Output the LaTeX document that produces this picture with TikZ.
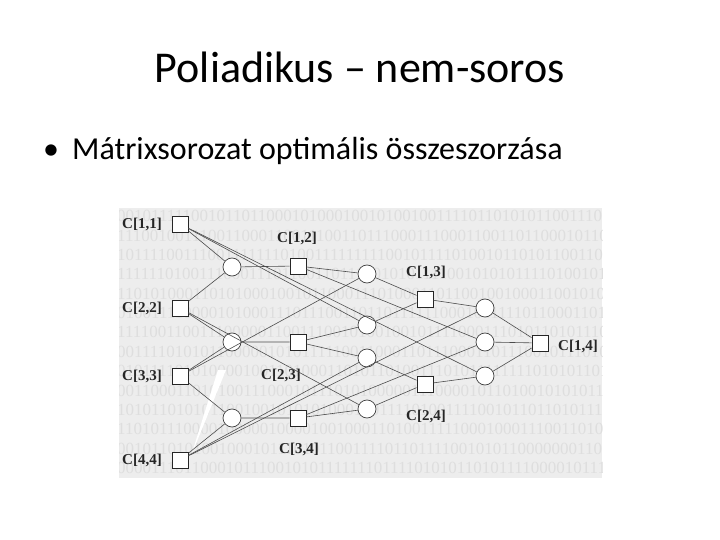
\documentclass[tikz,border=0pt]{standalone}
\usepackage{fontspec}
\setmainfont{Carlito}
\newfontfamily\scanfont{Liberation Serif}

\begin{document}
\begin{tikzpicture}[x=1pt,y=-1pt,
  sq/.style={draw=black!85,fill=white,line width=0.9pt,minimum size=16pt,inner sep=0pt},
  op/.style={circle,draw=black!75,fill=white,line width=0.7pt,minimum size=18pt,inner sep=0pt},
  lbl/.style={font=\scanfont\bfseries\fontsize{15}{15}\selectfont,text=black!85,inner sep=0pt},
  bits/.style={anchor=west,font=\scanfont\fontsize{17}{17}\selectfont,text=black!13,inner sep=0pt},
  wire/.style={draw=black!70,line width=0.6pt}]
\useasboundingbox (0,0) rectangle (720,540);
\fill[white] (0,0) rectangle (720,540);

\node[anchor=base,font=\fontsize{44}{44}\selectfont] (title) at (360,83) {Poliadikus – nem-soros};
\node[anchor=base,inner sep=0pt,font=\fontsize{32}{32}\selectfont] (dot) at (51,160) {•};
\node[anchor=base west,inner sep=0pt,font=\fontsize{32}{32}\selectfont] (item) at (72,160) {Mátrixsorozat optimális összeszorzása};

\fill[black!7] (119,208) rectangle (602,478);
\begin{scope}
\clip (119,208) rectangle (602,478);
\node[bits] (r1) at (117,216) {001011111001011011000101000100101001001111011010101100111010};
\node[bits] (r2) at (117,236) {111001001110011000110011100110111000111000110011011000101101};
\node[bits] (r3) at (117,255) {101111001110011111110100111111111001011110100101101011001101};
\node[bits] (r4) at (117,274) {111111010011100011101100110111001010111100101010111101001011};
\node[bits] (r5) at (117,294) {110101000110101000100101100011101000110110010010001100101010};
\node[bits] (r6) at (117,313) {010011110000101000111011100110110111111000101111101100011011};
\node[bits] (r7) at (117,332) {111100110011100000110011100101001001011110001110101101011100};
\node[bits] (r8) at (117,352) {001111010101100000101011111001100011011100011011100101110100};
\node[bits] (r9) at (117,371) {010111101010000100110100011010110100111010111111110101011010};
\node[bits] (r10) at (117,391) {001100011010100111000101110101000001110000101101001010101101};
\node[bits] (r11) at (117,410) {101011010101100100101010100010011110100111100101101101011100};
\node[bits] (r12) at (117,429) {110101110000100000100001001000110100111110001000111001101001};
\node[bits] (r13) at (117,449) {001011010100100010111010110011110110111100101011000000011010};
\node[bits] (r14) at (117,468) {000011101100010111001010111111101111010101101011110000101110};
\end{scope}
\fill[white] (191,456) -- (218,370) -- (226,370) -- cycle;

\node[sq] (c11) at (180,224) {};
\node[sq] (c22) at (180,308) {};
\node[sq] (c33) at (180,376) {};
\node[sq] (c44) at (180,460) {};
\node[op] (k12) at (232,267) {};
\node[op] (k23) at (232,342) {};
\node[op] (k34) at (232,418) {};
\node[sq] (c12) at (298,266) {};
\node[sq] (c23) at (298,342) {};
\node[sq] (c34) at (298,418) {};
\node[op] (k13a) at (367,274) {};
\node[op] (k13b) at (367,325) {};
\node[op] (k24a) at (367,358) {};
\node[op] (k24b) at (367,409) {};
\node[sq] (c13) at (425,299) {};
\node[sq] (c24) at (425,384) {};
\node[op] (k14a) at (485,308) {};
\node[op] (k14b) at (485,342) {};
\node[op] (k14c) at (485,376) {};
\node[sq] (c14) at (540,343) {};

\node[lbl] (t11) at (142,224) {C[1,1]};
\node[lbl] (t22) at (142,308) {C[2,2]};
\node[lbl] (t33) at (142,376) {C[3,3]};
\node[lbl] (t44) at (142,460) {C[4,4]};
\node[lbl] (t12) at (297,238) {C[1,2]};
\node[lbl] (t23) at (281,375) {C[2,3]};
\node[lbl] (t34) at (299,449) {C[3,4]};
\node[lbl] (t13) at (426,272) {C[1,3]};
\node[lbl] (t24) at (426,416) {C[2,4]};
\node[lbl] (t14) at (578,346) {C[1,4]};

\draw[wire] (c11) -- (k12) -- (c12);
\draw[wire] (c22) -- (k12);
\draw[wire] (c22) -- (k23) -- (c23);
\draw[wire] (c33) -- (k23);
\draw[wire] (c33) -- (k34) -- (c34);
\draw[wire] (c44) -- (k34);
\draw[wire] (c12) -- (k13a) -- (c13);
\draw[wire] (c33) -- (k13a);
\draw[wire] (c11) -- (k13b) -- (c13);
\draw[wire] (c23) -- (k13b);
\draw[wire] (c23) -- (k24a) -- (c24);
\draw[wire] (c44) -- (k24a);
\draw[wire] (c22) -- (k24b) -- (c24);
\draw[wire] (c34) -- (k24b);
\draw[wire] (c13) -- (k14a) -- (c14);
\draw[wire] (c44) -- (k14a);
\draw[wire] (c12) -- (k14b) -- (c14);
\draw[wire] (c34) -- (k14b);
\draw[wire] (c11) -- (k14c) -- (c14);
\draw[wire] (c24) -- (k14c);
\end{tikzpicture}
\end{document}
